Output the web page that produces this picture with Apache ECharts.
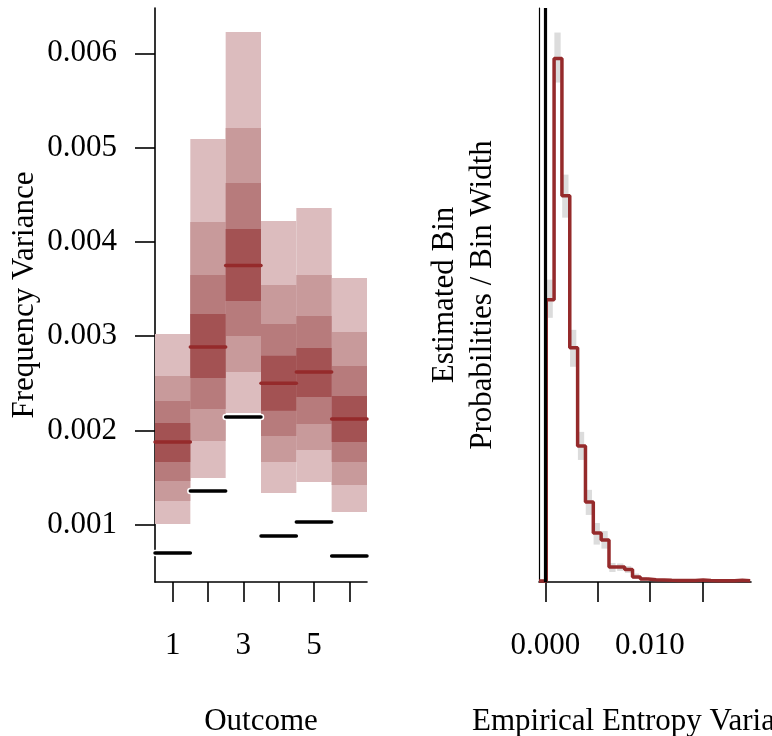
<!DOCTYPE html>
<html>
<head>
<meta charset="utf-8">
<script src="https://cdn.jsdelivr.net/npm/echarts@6/dist/echarts.min.js"></script>
<style>
html,body{margin:0;padding:0;background:#fff;}
#chart{width:772px;height:736px;}
</style>
</head>
<body>
<div id="chart"></div>
<script>
// ---------- Left panel: frequency variance per outcome ----------
const outcomes = [1, 2, 3, 4, 5, 6];
const outcomeTicks = [1, 2, 3, 4, 5, 6];
const outcomeLabels = [1, 3, 5];
const freqTicks = [0.001, 0.002, 0.003, 0.004, 0.005, 0.006];

const band1Lo = [0.001008, 0.001496, 0.002186, 0.001337, 0.001454, 0.001136];
const band1Hi = [0.003023, 0.005091, 0.006226, 0.004222, 0.004359, 0.003617];
const band2Lo = [0.001252, 0.001888, 0.002621, 0.001666, 0.001793, 0.001422];
const band2Hi = [0.002578, 0.004211, 0.005208, 0.003543, 0.003649, 0.003044];
const band3Lo = [0.001464, 0.002228, 0.003002, 0.001942, 0.002069, 0.001666];
const band3Hi = [0.002313, 0.003649, 0.004625, 0.003130, 0.003214, 0.002683];
const band4Lo = [0.001666, 0.002557, 0.003372, 0.002208, 0.002355, 0.001878];
const band4Hi = [0.002080, 0.003235, 0.004137, 0.002791, 0.002875, 0.002365];
const medianVar = [0.001878, 0.002885, 0.003750, 0.002500, 0.002621, 0.002121];
const observedVar = [0.000701, 0.001358, 0.002144, 0.000881, 0.001030, 0.000669];

// ---------- Right panel: empirical entropy variance histogram ----------
const binStart = 0.00008;
const binWidth = 0.00075;
const density = [208.6, 387.5, 285.8, 173.0, 100.2, 58.6, 35.6, 30.4, 10.4, 10.4, 8.5, 3.0, 1.5,
                 0.9, 0.7, 0.5, 0.4, 0.3, 0.3, 0.7, 0.3, 0.2, 0.2, 0.2, 0.5, 0.2];
const densityLo = [195.2, 369.7, 269.5, 158.9, 89.8, 49.0, 27.0, 24.0, 6.7, 7.5, 6.0, 1.5, 0.6,
                   0.3, 0.2, 0.1, 0.1, 0.0, 0.0, 0.2, 0.0, 0.0, 0.0, 0.0, 0.1, 0.0];
const densityHi = [223.5, 406.8, 301.4, 186.3, 110.6, 67.6, 43.0, 37.0, 13.4, 13.0, 11.0, 5.5, 3.0,
                   1.8, 1.4, 1.1, 0.9, 0.8, 0.8, 1.4, 0.8, 0.6, 0.6, 0.6, 1.1, 0.6];
const observedEntropyVar = 0.00012;
const entropyTicks = [0, 0.005, 0.010, 0.015];
const entropyLabels = [0, 0.010];

const xMinR = -0.000612, xMaxR = 0.019656;

const FONT = 'Liberation Serif';
const FS = 31;

const bandColors = ['#dcbcbe', '#c89a9b', '#b77b7c', '#a35253'];
const redCol = '#952a2b';

function bandSeries(lo, hi, color) {
  return {
    type: 'custom', xAxisIndex: 0, yAxisIndex: 0, silent: true,
    data: outcomes.map((o, i) => [o, lo[i], hi[i]]),
    encode: { x: 0, y: [1, 2] },
    renderItem: function (params, api) {
      const p1 = api.coord([api.value(0) - 0.5, api.value(2)]);
      const p2 = api.coord([api.value(0) + 0.5, api.value(1)]);
      return { type: 'rect', shape: { x: p1[0], y: p1[1], width: p2[0] - p1[0], height: p2[1] - p1[1] },
               style: { fill: color } };
    }
  };
}

function segSeries(vals, color, width, outline) {
  return {
    type: 'custom', xAxisIndex: 0, yAxisIndex: 0, silent: true,
    data: outcomes.map((o, i) => [o, vals[i]]),
    encode: { x: 0, y: 1 },
    renderItem: function (params, api) {
      const a = api.coord([api.value(0) - 0.5, api.value(1)]);
      const b = api.coord([api.value(0) + 0.5, api.value(1)]);
      const children = [];
      if (outline) {
        children.push({ type: 'line', shape: { x1: a[0], y1: a[1], x2: b[0], y2: b[1] },
                        style: { stroke: '#ffffff', lineWidth: width + 3, lineCap: 'round' } });
      }
      children.push({ type: 'line', shape: { x1: a[0], y1: a[1], x2: b[0], y2: b[1] },
                      style: { stroke: color, lineWidth: width, lineCap: 'round' } });
      return { type: 'group', children: children };
    }
  };
}

const stepData = [[xMinR, 0]].concat(density.map((d, k) => [binStart + k * binWidth, d]));
stepData.push([binStart + density.length * binWidth, density[density.length - 1]]);

const axisLineStyle = { color: '#000', width: 1.6 };

const option = {
  animation: false,
  backgroundColor: '#ffffff',
  textStyle: { fontFamily: FONT },
  grid: [
    { left: 155, width: 212, top: 8, height: 574, containLabel: false, outerBoundsMode: 'none' },
    { left: 539, width: 212, top: 8, height: 574, containLabel: false, outerBoundsMode: 'none' }
  ],
  xAxis: [
    {
      gridIndex: 0, type: 'value', min: 0.5, max: 6.5,
      name: 'Outcome', nameLocation: 'middle', nameGap: 140,
      nameTextStyle: { fontFamily: FONT, fontSize: FS, color: '#000', verticalAlign: 'middle' },
      axisLine: { show: true, onZero: false, lineStyle: axisLineStyle },
      axisTick: { show: true, length: 20, customValues: outcomeTicks, lineStyle: axisLineStyle },
      axisLabel: { customValues: outcomeLabels, margin: 64, verticalAlign: 'middle',
                   fontFamily: FONT, fontSize: FS, color: '#000' },
      splitLine: { show: false }
    },
    {
      gridIndex: 1, type: 'value', min: xMinR, max: xMaxR,
      name: 'Empirical Entropy Variance', nameLocation: 'middle', nameGap: 140,
      nameTextStyle: { fontFamily: FONT, fontSize: FS, color: '#000', verticalAlign: 'middle' },
      axisLine: { show: true, onZero: false, lineStyle: axisLineStyle },
      axisTick: { show: true, length: 20, customValues: entropyTicks, lineStyle: axisLineStyle },
      axisLabel: { customValues: entropyLabels, margin: 64, verticalAlign: 'middle',
                   showMinLabel: true, hideOverlap: false,
                   formatter: v => Number(v).toFixed(3),
                   fontFamily: FONT, fontSize: FS, color: '#000' },
      splitLine: { show: false }
    }
  ],
  yAxis: [
    {
      gridIndex: 0, type: 'value', min: 0.000393, max: 0.00648,
      name: 'Frequency Variance', nameLocation: 'middle', nameGap: 130,
      nameTextStyle: { fontFamily: FONT, fontSize: FS, color: '#000', verticalAlign: 'middle' },
      axisLine: { show: true, onZero: false, lineStyle: axisLineStyle },
      axisTick: { show: true, length: 20, customValues: freqTicks, lineStyle: axisLineStyle },
      axisLabel: { customValues: freqTicks, margin: 38, formatter: v => Number(v).toFixed(3),
                   padding: [8, 0, 0, 0],
                   fontFamily: FONT, fontSize: FS, color: '#000' },
      splitLine: { show: false }
    },
    {
      gridIndex: 1, type: 'value', min: -0.75, max: 425,
      name: 'Estimated Bin\nProbabilities / Bin Width', nameLocation: 'middle', nameGap: 75,
      nameTextStyle: { fontFamily: FONT, fontSize: FS, color: '#000', verticalAlign: 'middle',
                       lineHeight: 38, align: 'center' },
      axisLine: { show: true, onZero: false, lineStyle: { color: '#000', width: 1.2 } },
      axisTick: { show: false },
      axisLabel: { show: false },
      splitLine: { show: false }
    }
  ],
  series: [
    bandSeries(band1Lo, band1Hi, bandColors[0]),
    bandSeries(band2Lo, band2Hi, bandColors[1]),
    bandSeries(band3Lo, band3Hi, bandColors[2]),
    bandSeries(band4Lo, band4Hi, bandColors[3]),
    segSeries(medianVar, redCol, 3.5, false),
    segSeries(observedVar, '#000000', 3.5, true),
    {
      type: 'custom', xAxisIndex: 1, yAxisIndex: 1, silent: true,
      data: density.map((d, k) => [binStart + (k + 0.5) * binWidth, densityLo[k], densityHi[k]]),
      encode: { x: 0, y: [1, 2] },
      renderItem: function (params, api) {
        const w = api.size([0.0006, 0])[0];
        const top = api.coord([api.value(0), api.value(2)]);
        const bot = api.coord([api.value(0), api.value(1)]);
        return { type: 'rect', shape: { x: top[0] - w / 2 - 0.5, y: top[1], width: w, height: Math.max(bot[1] - top[1], 1) },
                 style: { fill: '#dcdcdc' } };
      }
    },
    {
      type: 'line', xAxisIndex: 1, yAxisIndex: 1, silent: true,
      data: stepData, step: 'end', symbol: 'none',
      lineStyle: { color: redCol, width: 3.5 }
    },
    {
      type: 'line', xAxisIndex: 1, yAxisIndex: 1, silent: true,
      data: [], symbol: 'none',
      markLine: {
        silent: true, symbol: ['none', 'none'], animation: false,
        label: { show: false },
        lineStyle: { color: '#000', width: 3.2, type: 'solid' },
        data: [{ xAxis: observedEntropyVar }]
      }
    }
  ]
};

const chart = echarts.init(document.getElementById('chart'), null, { renderer: 'canvas' });
chart.setOption(option);
</script>
</body>
</html>
